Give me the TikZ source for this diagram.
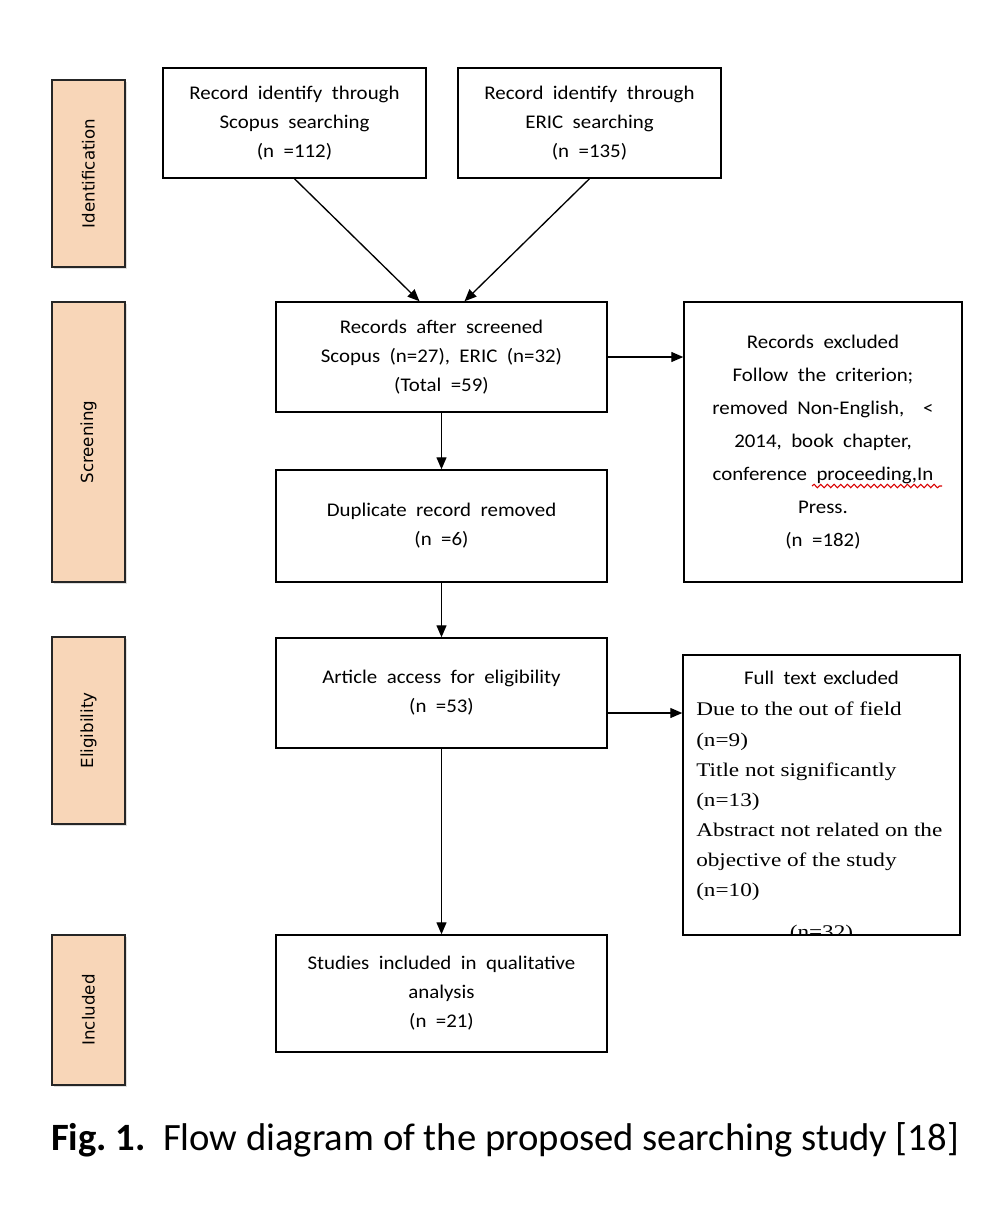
\documentclass[tikz,border=0pt]{standalone}
\usepackage{fontspec}
\setmainfont{Carlito}[FakeStretch=1.08, WordSpace=2.0]
\newfontfamily\capfont{Carlito}
\newfontfamily\serifft{Liberation Serif}[FakeStretch=1.2]
\newfontfamily\bandfont{DejaVu Sans}
\usetikzlibrary{arrows.meta,calc,shadows,decorations.pathmorphing}
\definecolor{peach}{HTML}{F8D6B8}
\tikzset{
  box/.style={draw, line width=1.1pt, inner sep=0pt, align=center,
    font=\fontsize{14.5}{21.75}\selectfont},
  band/.style={draw=black!85, line width=1pt, fill=peach, inner sep=0pt,
    drop shadow={shadow xshift=1.5pt, shadow yshift=-1.5pt, opacity=0.25}},
  bandlabel/.style={rotate=90, font=\bandfont\fontsize{12.5}{14}\selectfont, inner sep=0pt},
  arr/.style={line width=1pt, -{Triangle[length=9pt,width=7.5pt]}},
  ftline/.style={anchor=base west, inner sep=0pt, font=\serifft\fontsize{14.5}{16}\selectfont}
}
\begin{document}
\begin{tikzpicture}[x=0.75pt,y=-0.75pt]
\useasboundingbox (0,0) rectangle (1004,1208);
% bands
\node[band, minimum width=54.75pt, minimum height=140.25pt] (b1) at (88.5,173.5) {};
\node[band, minimum width=54.75pt, minimum height=210pt] (b2) at (88.5,442) {};
\node[band, minimum width=54.75pt, minimum height=140.25pt] (b3) at (88.5,730.5) {};
\node[band, minimum width=54.75pt, minimum height=112.5pt] (b4) at (88.5,1010) {};
\node[bandlabel] (l1) at (b1.center) {Identification};
\node[bandlabel] (l2) at (b2.center) {Screening};
\node[bandlabel] (l3) at (b3.center) {Eligibility};
\node[bandlabel] (l4) at (b4.center) {Included};
% boxes
\node[box, minimum width=197.25pt, minimum height=82.5pt] (sc) at (294.5,123)
  {Record identify through\\Scopus searching\\(n =112)};
\node[box, minimum width=197.25pt, minimum height=82.5pt] (er) at (589.5,123)
  {Record identify through\\ERIC searching\\(n =135)};
\node[box, minimum width=248.25pt, minimum height=82.5pt] (ra) at (441.5,357)
  {Records after screened\\Scopus (n=27), ERIC (n=32)\\(Total =59)};
\node[box, minimum width=208.5pt, minimum height=210pt, font=\fontsize{14.5}{24.75}\selectfont] (re) at (823,442)
  {Records excluded\\Follow the criterion;\\removed Non-English, \ <\\2014, book chapter,\\conference proceeding,In\\Press.\\(n =182)};
\node[box, minimum width=248.25pt, minimum height=84pt] (du) at (441.5,526)
  {Duplicate record removed\\(n =6)};
\node[box, minimum width=248.25pt, minimum height=82.5pt] (ar) at (441.5,693)
  {Article access for eligibility\\(n =53)};
\node[box, minimum width=207.75pt, minimum height=210pt] (ft) at (821.5,795) {};
\node[box, minimum width=248.25pt, minimum height=87.75pt] (st) at (441.5,993.5)
  {Studies included in qualitative\\analysis\\(n =21)};
% full text excluded contents
\begin{scope}
\clip (ft.south west) rectangle (ft.north east);
\node[anchor=base, inner sep=0pt, font=\fontsize{14.5}{16}\selectfont] (t0) at (821.5,684) {Full text\hspace{-2pt} excluded};
\node[ftline] (t1) at (696,715) {Due to the out of field};
\node[ftline] (t2) at (696,746) {(n=9)};
\node[ftline] (t3) at (696,776) {Title not significantly};
\node[ftline] (t4) at (696,806) {(n=13)};
\node[ftline] (t5) at (696,836) {Abstract not related on the};
\node[ftline] (t6) at (696,866) {objective of the study};
\node[ftline] (t7) at (696,896) {(n=10)};
\node[ftline, anchor=base] (t8) at (821.5,938) {(n=32)};
\end{scope}
% squiggle
\draw[red!85!black, line width=0.8pt, decorate, decoration={snake, amplitude=1.3pt, segment length=5pt}] (812,486) -- (942,486);
% connectors
\draw[arr] (sc.south) -- ($(ra.north)+(-22,0)$);
\draw[arr] (er.south) -- ($(ra.north)+(23,0)$);
\draw[arr] (ra.east) -- (ra.east -| re.west);
\draw[arr] (ra.south) -- (du.north);
\draw[arr] (du.south) -- (ar.north);
\draw[arr] ($(ar.east)+(0,20)$) -- ($(ar.east -| ft.west)+(0,20)$);
\draw[arr] (ar.south) -- (st.north);
% caption
\node[inner sep=0pt, font=\capfont\fontsize{29}{34}\selectfont] (cap) at (505,1140)
  {\textbf{Fig.\ 1.}\ \ Flow diagram of the proposed searching study [18]};
\end{tikzpicture}
\end{document}
